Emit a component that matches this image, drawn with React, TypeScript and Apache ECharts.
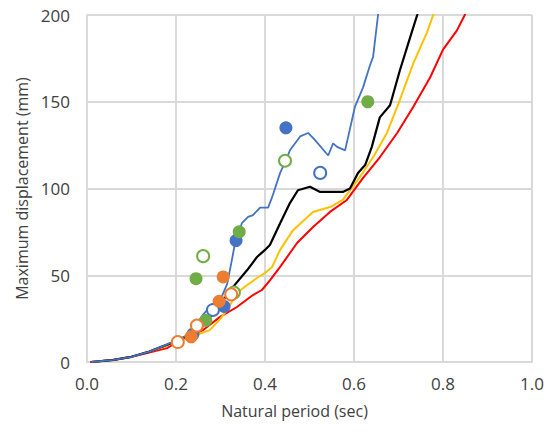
import React, { useEffect, useRef } from "react";
import * as echarts from "echarts";

const xTicks = [0, 0.2, 0.4, 0.6, 0.8, 1.0];
const yTicks = [0, 50, 100, 150, 200];

const blueLine: [number, number][] = [
  [0.01, 0], [0.06, 1.2], [0.1, 3], [0.14, 6], [0.17, 9], [0.2, 12.5], [0.23, 16],
  [0.26, 27], [0.28, 33], [0.3, 36], [0.315, 45], [0.325, 58], [0.333, 69],
  [0.348, 80], [0.362, 83.6], [0.373, 84.7], [0.389, 89], [0.407, 89], [0.416, 95],
  [0.434, 109], [0.445, 115], [0.456, 122], [0.479, 130], [0.497, 132], [0.512, 128],
  [0.542, 119], [0.553, 126], [0.562, 124], [0.58, 122], [0.602, 147], [0.62, 158],
  [0.636, 171], [0.643, 176], [0.654, 200], [0.66, 215],
];
const blackLine: [number, number][] = [
  [0.01, 0], [0.06, 1.2], [0.1, 3], [0.14, 6], [0.17, 9], [0.2, 12], [0.23, 15.5],
  [0.26, 21], [0.29, 30], [0.31, 37], [0.326, 42.6], [0.36, 53], [0.382, 60.5],
  [0.4, 64.6], [0.411, 67.4], [0.434, 80], [0.456, 91.6], [0.474, 99], [0.501, 101],
  [0.524, 98], [0.575, 98], [0.591, 100], [0.609, 109], [0.625, 113.5], [0.64, 124],
  [0.658, 141], [0.681, 148], [0.703, 168], [0.726, 187], [0.742, 200], [0.75, 208],
];
const yellowLine: [number, number][] = [
  [0.01, 0], [0.06, 1.2], [0.1, 3], [0.14, 6], [0.17, 8.5], [0.2, 11.5], [0.23, 14],
  [0.25, 16], [0.276, 18.4], [0.3, 25], [0.315, 30], [0.337, 39.8], [0.36, 44.4],
  [0.382, 48.4], [0.4, 51.3], [0.416, 54.8], [0.434, 64.6], [0.463, 76], [0.508, 86.5],
  [0.546, 89.3], [0.575, 93.4], [0.613, 106.6], [0.643, 118], [0.674, 132],
  [0.703, 151], [0.733, 172], [0.764, 190], [0.778, 200], [0.785, 205],
];
const redLine: [number, number][] = [
  [0.007, 0], [0.058, 1.2], [0.1, 3], [0.135, 5.2], [0.18, 8], [0.209, 12.7],
  [0.261, 18.4], [0.299, 26], [0.337, 31.7], [0.373, 38.6], [0.393, 41.5],
  [0.411, 47], [0.434, 54.8], [0.472, 68.6], [0.508, 77.8], [0.546, 86.5],
  [0.584, 93.4], [0.62, 106], [0.658, 118], [0.697, 132], [0.733, 147], [0.771, 164],
  [0.8, 180], [0.831, 191], [0.849, 200], [0.86, 207],
];

const blueFilled: [number, number][] = [[0.447, 135], [0.335, 70], [0.308, 32], [0.238, 16]];
const blueHollow: [number, number][] = [[0.524, 109], [0.283, 30]];
const greenFilled: [number, number][] = [[0.631, 150], [0.342, 75], [0.245, 48], [0.267, 24]];
const greenHollow: [number, number][] = [[0.445, 116], [0.261, 61], [0.33, 40]];
const orangeFilled: [number, number][] = [[0.306, 49], [0.297, 35], [0.234, 14.5]];
const orangeHollow: [number, number][] = [[0.247, 21], [0.204, 11.5], [0.324, 39]];

const BLUE = "#4472C4";
const GREEN = "#70AD47";
const ORANGE = "#ED7D31";
const FONT = "Open Sans";

export default function App() {
  const ref = useRef<HTMLDivElement>(null);
  useEffect(() => {
    if (!ref.current) return;
    const chart = echarts.init(ref.current, undefined, { renderer: "svg" });
    const line = (data: [number, number][], color: string, width: number) => ({
      type: "line",
      data,
      showSymbol: false,
      symbol: "none",
      lineStyle: { color, width },
      z: 2,
    });
    const filled = (data: [number, number][], color: string) => ({
      type: "scatter",
      data,
      symbol: "circle",
      symbolSize: 13,
      itemStyle: { color, opacity: 1 },
      z: 3,
    });
    const hollow = (data: [number, number][], color: string) => ({
      type: "scatter",
      data,
      symbol: "circle",
      symbolSize: 12,
      itemStyle: { color: "#ffffff", borderColor: color, borderWidth: 2, opacity: 1 },
      z: 3,
    });
    chart.setOption({
      animation: false,
      backgroundColor: "#ffffff",
      grid: { left: 87, right: 15, top: 15, bottom: 70, containLabel: false },
      xAxis: {
        type: "value",
        min: xTicks[0],
        max: xTicks[xTicks.length - 1],
        interval: 0.2,
        name: "Natural period (sec)",
        nameLocation: "middle",
        nameGap: 41,
        nameTextStyle: { fontFamily: FONT, fontSize: 16, color: "#404040", padding: [0, 30, 0, 0] },
        axisLine: { show: true, lineStyle: { color: "#D9D9D9", width: 2 } },
        axisTick: { show: false },
        axisLabel: {
          fontFamily: FONT,
          fontSize: 17,
          color: "#404040",
          margin: 13,
          formatter: (v: number) => v.toFixed(1),
        },
        splitLine: { show: true, lineStyle: { color: "#D9D9D9", width: 2 } },
      },
      yAxis: {
        type: "value",
        min: yTicks[0],
        max: yTicks[yTicks.length - 1],
        interval: 50,
        name: "Maximum displacement (mm)",
        nameLocation: "middle",
        nameGap: 57,
        nameTextStyle: { fontFamily: FONT, fontSize: 16, color: "#404040" },
        axisLine: { show: true, lineStyle: { color: "#D9D9D9", width: 2 } },
        axisTick: { show: false },
        axisLabel: { fontFamily: FONT, fontSize: 17, color: "#404040", margin: 17 },
        splitLine: { show: true, lineStyle: { color: "#D9D9D9", width: 2 } },
      },
      series: [
        line(redLine, "#FF0000", 2),
        line(yellowLine, "#FFC000", 2),
        line(blackLine, "#000000", 2.2),
        line(blueLine, BLUE, 1.8),
        filled(blueFilled, BLUE),
        hollow(blueHollow, BLUE),
        filled(greenFilled, GREEN),
        hollow(greenHollow, GREEN),
        filled(orangeFilled, ORANGE),
        hollow(orangeHollow, ORANGE),
      ],
    });
    return () => chart.dispose();
  }, []);
  return (
    <div
      ref={ref}
      style={{ position: "fixed", left: 0, top: 0, width: 547, height: 432 }}
    />
  );
}
